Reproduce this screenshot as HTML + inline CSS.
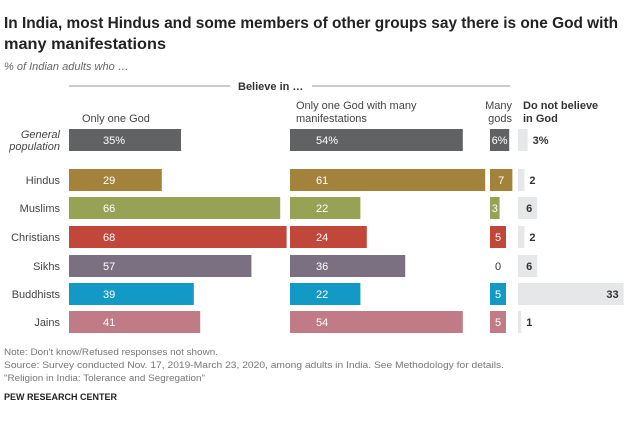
<!DOCTYPE html>
<html><head><meta charset="utf-8"><style>
body{margin:0;width:640px;height:420px;background:#fff;font-family:"Liberation Sans",sans-serif;overflow:hidden}
svg text{font-family:"Liberation Sans",sans-serif}
</style></head><body>
<svg width="640" height="420" xmlns="http://www.w3.org/2000/svg">
<text x="4" y="28" font-size="16" font-weight="bold" fill="#222" textLength="614" lengthAdjust="spacingAndGlyphs">In India, most Hindus and some members of other groups say there is one God with</text>
<text x="4" y="49" font-size="16" font-weight="bold" fill="#222" textLength="162" lengthAdjust="spacingAndGlyphs">many manifestations</text>
<text x="4" y="70" font-size="11" font-style="italic" fill="#666" font-family="Liberation Serif">% of Indian adults who …</text>
<line x1="69" y1="86" x2="230" y2="86" stroke="#999"/>
<line x1="312" y1="86" x2="510" y2="86" stroke="#999"/>
<text x="238" y="90" font-size="11" font-weight="bold" fill="#333">Believe in …</text>
<text x="82" y="122" font-size="11" fill="#444">Only one God</text>
<text x="296" y="109" font-size="11" fill="#444">Only one God with many</text>
<text x="296" y="122" font-size="11" fill="#444">manifestations</text>
<text x="512" y="109" font-size="11" fill="#444" text-anchor="end">Many</text>
<text x="512" y="122" font-size="11" fill="#444" text-anchor="end">gods</text>
<text x="523" y="109" font-size="11" font-weight="bold" fill="#333">Do not believe</text>
<text x="523" y="122" font-size="11" font-weight="bold" fill="#333">in God</text>
<g id="bars"></g>
<text x="4" y="355" font-size="9.5" fill="#777" textLength="214" lengthAdjust="spacingAndGlyphs">Note: Don't know/Refused responses not shown.</text>
<text x="4" y="368" font-size="9.5" fill="#777" textLength="500" lengthAdjust="spacingAndGlyphs">Source: Survey conducted Nov. 17, 2019-March 23, 2020, among adults in India. See Methodology for details.</text>
<text x="4" y="381" font-size="9.5" fill="#777" textLength="201" lengthAdjust="spacingAndGlyphs">"Religion in India: Tolerance and Segregation"</text>
<text x="4" y="400" font-size="9.5" font-weight="bold" fill="#222" textLength="113" lengthAdjust="spacingAndGlyphs">PEW RESEARCH CENTER</text>
</svg>
<script>
const groups = ["General population","Hindus","Muslims","Christians","Sikhs","Buddhists","Jains"];
const onlyOne = [35,29,66,68,57,39,41];
const manifest = [54,61,22,24,36,22,54];
const manyGods = [6,7,3,5,0,5,5];
const notBelieve = [3,2,6,2,6,33,1];
const colors = ["#616264","#a3833c","#98a254","#c0473a","#7b6f82","#1399c6","#c17b86"];
const rowY = [129,169,197,226,255,283,311];
const scale = 3.2, barH = 22;
const starts = [69,290,490,518];
const series = [onlyOne, manifest, manyGods, notBelieve];
const ns = "http://www.w3.org/2000/svg";
const g = document.getElementById('bars');
function x(si, v){ return starts[si] + v*scale; }
function mk(tag, attrs){ const e=document.createElementNS(ns,tag); for(const k in attrs) e.setAttribute(k,attrs[k]); g.appendChild(e); return e; }
groups.forEach((name,i)=>{
  const y = rowY[i];
  if(i===0){
    let t=mk('text',{x:60,y:y+9,'font-size':11,'font-style':'italic',fill:'#444','text-anchor':'end'}); t.textContent='General';
     
    let t2=mk('text',{x:60,y:y+21,'font-size':11,'font-style':'italic',fill:'#444','text-anchor':'end'}); t2.textContent='population';
     
  } else {
    let t=mk('text',{x:60,y:y+15,'font-size':11,fill:'#444','text-anchor':'end'}); t.textContent=name;
     
  }
  series.forEach((arr,si)=>{
    const v=arr[i]; const w=x(si,v)-starts[si];
    const fill = si===3 ? '#e6e7e8' : colors[i];
    const r=mk('rect',{x:starts[si],y:y,width:w,height:barH,fill:fill});
     
    const lab = v + (i===0?'%':'');
    let t;
    if(si===0) t=mk('text',{x:starts[si]+34,y:y+15,'font-size':11,fill:'#fff'});
    else if(si===1) t=mk('text',{x:starts[si]+26,y:y+15,'font-size':11,fill:'#fff'});
    else if(si===2) t= v>0 ? mk('text',{x:starts[si]+w/2,y:y+15,'font-size':11,fill:'#fff','text-anchor':'middle'}) : mk('text',{x:starts[si]+8,y:y+15,'font-size':11,fill:'#333','text-anchor':'middle'});
    else t= v>=5 ? mk('text',{x:x(si,v)-5,y:y+15,'font-size':11,'font-weight':'bold',fill:'#333','text-anchor':'end'}) : mk('text',{x:x(si,v)+5,y:y+15,'font-size':11,'font-weight':'bold',fill:'#333'});
    t.textContent=lab;
     
  });
});
</script>
</body></html>
